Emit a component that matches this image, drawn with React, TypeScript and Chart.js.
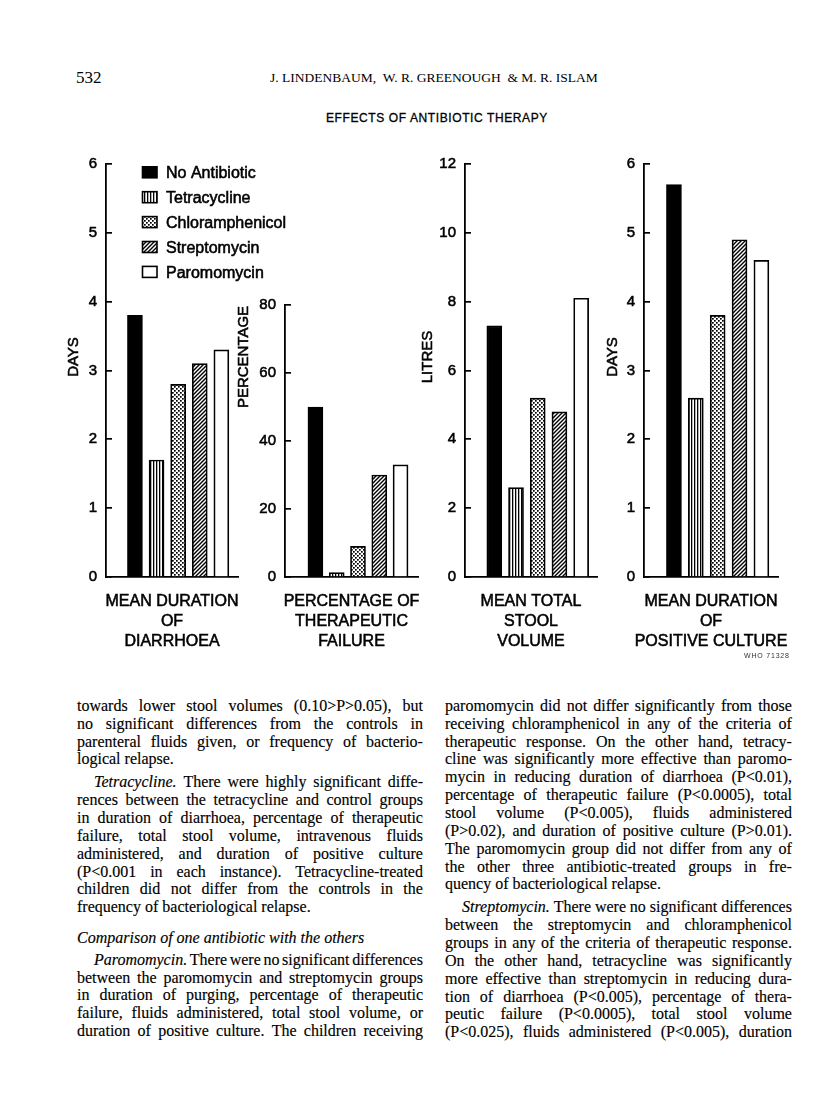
import React, { useEffect, useRef } from "react";
import { Chart, registerables } from "chart.js";

Chart.register(...registerables);

// ---------------- data ----------------
const groupNames = ["No Antibiotic", "Tetracycline", "Chloramphenicol", "Streptomycin", "Paromomycin"];
const groupSlots = [1, 2, 3, 4, 5];

const diarrhoeaDays = [3.8, 1.7, 2.8, 3.1, 3.3];
const failurePercent = [50, 1.3, 9, 30, 33];
const stoolLitres = [7.3, 2.6, 5.2, 4.8, 8.1];
const cultureDays = [5.7, 2.6, 3.8, 4.9, 4.6];

const dayTicks = [0, 1, 2, 3, 4, 5, 6];
const percentTicks = [0, 20, 40, 60, 80];
const litreTicks = [0, 2, 4, 6, 8, 10, 12];

const diarrhoeaCaption = ["MEAN DURATION", "OF", "DIARRHOEA"];
const failureCaption = ["PERCENTAGE OF", "THERAPEUTIC", "FAILURE"];
const stoolCaption = ["MEAN TOTAL", "STOOL", "VOLUME"];
const cultureCaption = ["MEAN DURATION", "OF", "POSITIVE CULTURE"];

// ---------------- layout ----------------
const SANS = '"Liberation Sans", Arial, Helvetica, sans-serif';
const SERIF = '"Liberation Serif", "Times New Roman", serif';
const BASE_Y = 577;
const Y_AXIS_W = 62;
const PAD_TOP = 14;
const PAD_BOTTOM = 80;
const TITLE_Y = 357;
const INK = "#000";

type Panel = {
  values: number[];
  ticks: number[];
  max: number;
  title: string;
  caption: string[];
  axisX: number;
  topY: number;
  rightX: number;
  padRight: number;
  titleDx: number;
  xMin: number;
  xMax: number;
  key?: boolean;
};

const panels: Panel[] = [
  { values: diarrhoeaDays, ticks: dayTicks, max: 6, title: "DAYS", caption: diarrhoeaCaption,
    axisX: 106, topY: 154, rightX: 238, padRight: 64, titleDx: 33, xMin: -0.34, xMax: 5.77, key: true },
  { values: failurePercent, ticks: percentTicks, max: 80, title: "PERCENTAGE", caption: failureCaption,
    axisX: 285, topY: 295, rightX: 418, padRight: 16, titleDx: 42, xMin: -0.43, xMax: 5.82 },
  { values: stoolLitres, ticks: litreTicks, max: 12, title: "LITRES", caption: stoolCaption,
    axisX: 465, topY: 154, rightX: 597, padRight: 16, titleDx: 38, xMin: -0.35, xMax: 5.73 },
  { values: cultureDays, ticks: dayTicks, max: 6, title: "DAYS", caption: cultureCaption,
    axisX: 644, topY: 154, rightX: 778, padRight: 22, titleDx: 32, xMin: -0.37, xMax: 5.76 },
];

function canvasBox(p: Panel) {
  return {
    left: p.axisX - Y_AXIS_W,
    top: p.topY - PAD_TOP,
    width: Y_AXIS_W + (p.rightX - p.axisX) + p.padRight,
    height: PAD_TOP + (BASE_Y - p.topY) + PAD_BOTTOM,
  };
}

function makeFills(ctx: CanvasRenderingContext2D): (string | CanvasPattern)[] {
  const tile = (w: number, h: number, draw: (g: CanvasRenderingContext2D) => void) => {
    const c = document.createElement("canvas");
    c.width = w;
    c.height = h;
    const g = c.getContext("2d")!;
    g.fillStyle = "#fff";
    g.fillRect(0, 0, w, h);
    g.fillStyle = INK;
    g.strokeStyle = INK;
    draw(g);
    return ctx.createPattern(c, "repeat")!;
  };
  const vertical = tile(3, 3, (g) => g.fillRect(1, 0, 1.3, 3));
  const dots = tile(4, 4, (g) => {
    g.fillRect(0, 0, 1.7, 1.7);
    g.fillRect(2, 2, 1.7, 1.7);
  });
  const diagonal = tile(4, 4, (g) => {
    g.lineWidth = 1.4;
    g.beginPath();
    g.moveTo(-1, 5);
    g.lineTo(5, -1);
    g.moveTo(-1, 1);
    g.lineTo(1, -1);
    g.moveTo(3, 5);
    g.lineTo(5, 3);
    g.stroke();
  });
  return [INK, vertical, dots, diagonal, "#fff"];
}

function inkText(ctx: CanvasRenderingContext2D, text: string, x: number, y: number) {
  ctx.fillText(text, x, y);
  ctx.lineWidth = 0.55;
  ctx.strokeStyle = INK;
  ctx.strokeText(text, x, y);
}

const panelTextPlugin = {
  id: "panelText",
  afterDraw(chart: any, _args: any, opts: any) {
    if (!opts || !opts.title) return;
    const { ctx, chartArea } = chart;
    ctx.save();
    ctx.fillStyle = INK;
    ctx.font = `15px ${SANS}`;
    ctx.textAlign = "center";
    ctx.textBaseline = "alphabetic";
    ctx.translate(chartArea.left - opts.titleDx, opts.titleY);
    ctx.rotate(-Math.PI / 2);
    inkText(ctx, opts.title, 0, 5.4);
    ctx.restore();

    ctx.save();
    ctx.fillStyle = INK;
    ctx.font = `16px ${SANS}`;
    ctx.textAlign = "center";
    ctx.textBaseline = "alphabetic";
    const cx = (chartArea.left + chartArea.right) / 2;
    (opts.caption as string[]).forEach((line, i) => {
      inkText(ctx, line, cx, chartArea.bottom + 23 + i * 20 + 5.8);
    });
    ctx.restore();
  },
};

const groupKeyPlugin = {
  id: "groupKey",
  afterDraw(chart: any, _args: any, opts: any) {
    if (!opts || !opts.show) return;
    const { ctx, chartArea } = chart;
    const fills = chart.data.datasets[0].backgroundColor as any[];
    ctx.save();
    ctx.font = `16px ${SANS}`;
    ctx.textAlign = "left";
    ctx.textBaseline = "alphabetic";
    groupNames.forEach((name, i) => {
      const cy = chartArea.top + 8.3 + i * 24.9;
      const x = chartArea.left + 36.5;
      ctx.fillStyle = fills[i];
      ctx.fillRect(x, cy - 5.5, 14.5, 11);
      ctx.lineWidth = 1.6;
      ctx.strokeStyle = INK;
      ctx.strokeRect(x, cy - 5.5, 14.5, 11);
      ctx.fillStyle = INK;
      inkText(ctx, name, chartArea.left + 60, cy + 5.8);
    });
    ctx.restore();
  },
};

function buildChart(canvas: HTMLCanvasElement, p: Panel) {
  const ctx = canvas.getContext("2d")!;
  const fills = makeFills(ctx);
  const box = canvasBox(p);
  return new Chart(canvas, {
    type: "bar",
    data: {
      datasets: [
        {
          label: p.title,
          data: p.values.map((v, i) => ({ x: groupSlots[i], y: v })),
          backgroundColor: fills as any,
          borderColor: INK,
          borderWidth: 1.7,
          barThickness: 15,
        } as any,
      ],
    },
    options: {
      animation: false,
      responsive: false,
      maintainAspectRatio: false,
      devicePixelRatio: 1,
      layout: { padding: { top: PAD_TOP, right: p.padRight, bottom: PAD_BOTTOM, left: 0 } },
      plugins: {
        legend: { display: false },
        tooltip: { enabled: false },
        panelText: { title: p.title, titleDx: p.titleDx, titleY: TITLE_Y - box.top, caption: p.caption },
        groupKey: { show: !!p.key },
      } as any,
      scales: {
        x: {
          type: "linear",
          min: p.xMin,
          max: p.xMax,
          offset: false,
          ticks: { display: false },
          grid: { display: false, drawTicks: false },
          border: { display: true, color: INK, width: 1.8 },
          afterFit: (s: any) => {
            s.height = 0;
          },
        },
        y: {
          type: "linear",
          min: 0,
          max: p.max,
          afterBuildTicks: (s: any) => {
            s.ticks = p.ticks.map((v) => ({ value: v }));
          },
          ticks: {
            color: INK,
            padding: 15,
            font: { family: SANS, size: 15 },
            textStrokeColor: INK,
            textStrokeWidth: 0.55,
            callback: (v: any) => String(v),
          },
          grid: { drawOnChartArea: false, drawTicks: true, tickLength: -6, color: INK, lineWidth: 1.7 },
          border: { display: true, color: INK, width: 1.8 },
          afterFit: (s: any) => {
            s.width = Y_AXIS_W;
          },
        },
      } as any,
    },
    plugins: [panelTextPlugin, groupKeyPlugin] as any,
  });
}

// ---------------- page text ----------------
type Line = { y: number; t: string; it?: number; ind?: boolean; last?: boolean };

const leftLines: Line[] = [
  { y: 706, t: "towards lower stool volumes (0.10>P>0.05), but" },
  { y: 724, t: "no significant differences from the controls in" },
  { y: 742, t: "parenteral fluids given, or frequency of bacterio-" },
  { y: 759, t: "logical relapse.", last: true },
  { y: 782, t: "Tetracycline. There were highly significant diffe-", it: 1, ind: true },
  { y: 800, t: "rences between the tetracycline and control groups" },
  { y: 818, t: "in duration of diarrhoea, percentage of therapeutic" },
  { y: 836, t: "failure, total stool volume, intravenous fluids" },
  { y: 854, t: "administered, and duration of positive culture" },
  { y: 872, t: "(P<0.001 in each instance). Tetracycline-treated" },
  { y: 889, t: "children did not differ from the controls in the" },
  { y: 907, t: "frequency of bacteriological relapse.", last: true },
  { y: 938, t: "Comparison of one antibiotic with the others", it: 99, last: true },
  { y: 960, t: "Paromomycin. There were no significant differences", it: 1, ind: true },
  { y: 978, t: "between the paromomycin and streptomycin groups" },
  { y: 995, t: "in duration of purging, percentage of therapeutic" },
  { y: 1013, t: "failure, fluids administered, total stool volume, or" },
  { y: 1031, t: "duration of positive culture. The children receiving" },
];

const rightLines: Line[] = [
  { y: 706, t: "paromomycin did not differ significantly from those" },
  { y: 724, t: "receiving chloramphenicol in any of the criteria of" },
  { y: 742, t: "therapeutic response. On the other hand, tetracy-" },
  { y: 759, t: "cline was significantly more effective than paromo-" },
  { y: 777, t: "mycin in reducing duration of diarrhoea (P<0.01)," },
  { y: 795, t: "percentage of therapeutic failure (P<0.0005), total" },
  { y: 813, t: "stool volume (P<0.005), fluids administered" },
  { y: 831, t: "(P>0.02), and duration of positive culture (P>0.01)." },
  { y: 849, t: "The paromomycin group did not differ from any of" },
  { y: 867, t: "the other three antibiotic-treated groups in fre-" },
  { y: 884, t: "quency of bacteriological relapse.", last: true },
  { y: 907, t: "Streptomycin. There were no significant differences", it: 1, ind: true },
  { y: 925, t: "between the streptomycin and chloramphenicol" },
  { y: 943, t: "groups in any of the criteria of therapeutic response." },
  { y: 961, t: "On the other hand, tetracycline was significantly" },
  { y: 979, t: "more effective than streptomycin in reducing dura-" },
  { y: 997, t: "tion of diarrhoea (P<0.005), percentage of thera-" },
  { y: 1014, t: "peutic failure (P<0.0005), total stool volume" },
  { y: 1032, t: "(P<0.025), fluids administered (P<0.005), duration" },
];

function TextLine({ line, left, width }: { line: Line; left: number; width: number }) {
  const words = line.t.split(" ");
  const italicCount = line.it || 0;
  return (
    <div
      style={{
        position: "absolute",
        left,
        top: line.y - 9,
        width,
        height: 18,
        boxSizing: "border-box",
        paddingLeft: line.ind ? 17 : 0,
        display: "flex",
        justifyContent: line.last ? "flex-start" : "space-between",
        fontFamily: SERIF,
        fontSize: 16,
        lineHeight: "18px",
        color: "#000",
        whiteSpace: "pre",
        WebkitTextStroke: "0.15px #000",
      }}
    >
      {words.map((w, i) => (
        <span key={i} style={{ fontStyle: i < italicCount ? "italic" : "normal", marginRight: line.last && i < words.length - 1 ? "0.25em" : 0 }}>
          {w}
        </span>
      ))}
    </div>
  );
}

export default function App() {
  const canvasRefs = useRef<(HTMLCanvasElement | null)[]>([]);

  useEffect(() => {
    const charts = panels.map((p, i) => buildChart(canvasRefs.current[i]!, p));
    return () => charts.forEach((c) => c.destroy());
  }, []);

  return (
    <div style={{ position: "absolute", left: 0, top: 0, width: 816, height: 1107, background: "#fff", overflow: "hidden" }}>
      <div style={{ position: "absolute", left: 76, top: 68, fontFamily: SERIF, fontSize: 17, lineHeight: "20px", color: "#000" }}>532</div>
      <div style={{ position: "absolute", left: 270, top: 69, fontFamily: SERIF, fontSize: 13.5, lineHeight: "18px", color: "#000", whiteSpace: "pre" }}>
        J. LINDENBAUM,  W. R. GREENOUGH  &amp; M. R. ISLAM
      </div>
      <div style={{ position: "absolute", left: 326, top: 111, fontFamily: SANS, fontSize: 12, letterSpacing: "0.6px", lineHeight: "14px", color: "#000", WebkitTextStroke: "0.3px #000" }}>
        EFFECTS OF ANTIBIOTIC THERAPY
      </div>

      {panels.map((p, i) => {
        const b = canvasBox(p);
        return (
          <canvas
            key={i}
            ref={(el) => {
              canvasRefs.current[i] = el;
            }}
            width={b.width}
            height={b.height}
            style={{ position: "absolute", left: b.left, top: b.top, width: b.width, height: b.height, display: "block" }}
          />
        );
      })}

      <div style={{ position: "absolute", left: 744, top: 652, fontFamily: SANS, fontSize: 7, letterSpacing: "0.8px", lineHeight: "8px", color: "#333" }}>
        WHO 71328
      </div>

      {leftLines.map((l, i) => (
        <TextLine key={"l" + i} line={l} left={77} width={346} />
      ))}
      {rightLines.map((l, i) => (
        <TextLine key={"r" + i} line={l} left={445} width={347} />
      ))}
    </div>
  );
}
